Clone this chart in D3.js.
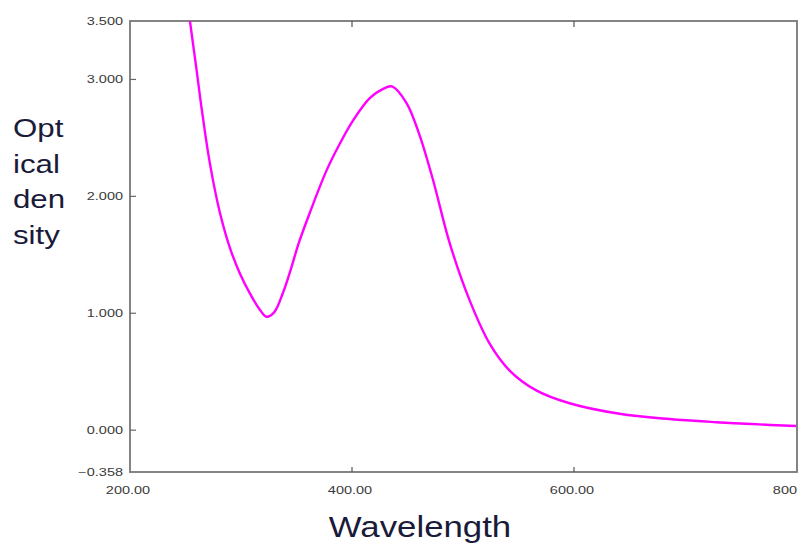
<!DOCTYPE html>
<html lang="en">
<head>
    <meta charset="UTF-8">
    <title>Optical density vs wavelength</title>
    <script src="https://d3js.org/d3.v7.min.js"></script>
    <style>
        body { margin: 0; background: #fff; }
        svg text { font-family: "Liberation Sans", Arial, sans-serif; }
        .tick-label { font-size: 10px; fill: #3a3a3a; }
        .title { fill: #1a1a3a; }
    </style>
</head>
<body>
    <svg id="chart"></svg>
    <script>
        const width = 798;
        const height = 545;

        // spectrum
        const wavelengths = [250, 254, 260, 265, 272, 281, 290, 299, 308, 317, 323, 330, 338, 345, 352, 362, 377, 389, 401, 416, 428, 436, 449, 461, 473, 488, 506, 524, 542, 566, 596, 641, 686, 728, 760, 800];
        const density = [3.8, 3.5, 3.08, 2.72, 2.28, 1.86, 1.56, 1.34, 1.17, 1.03, 0.97, 1.01, 1.18, 1.38, 1.6, 1.86, 2.22, 2.45, 2.65, 2.84, 2.92, 2.94, 2.8, 2.52, 2.14, 1.6, 1.11, 0.74, 0.51, 0.34, 0.23, 0.14, 0.095, 0.068, 0.052, 0.035];

        const xTicks = [200, 400, 600, 800];
        const xTickLabels = ['200.00', '400.00', '600.00', '800'];
        const yTicks = [-0.358, 0, 1, 2, 3, 3.5];
        const yLabelLines = ['Opt', 'ical', 'den', 'sity'];

        const plotLeft = 130, plotRight = 796, plotTop = 21, plotBottom = 472;

        const svg = d3.select('#chart')
            .attr('width', width)
            .attr('height', height);

        const x = d3.scaleLinear().domain([200, 800]).range([plotLeft, plotRight]);
        const y = d3.scaleLinear().domain([-0.358, 3.5]).range([plotBottom, plotTop]);

        // the original picture is stretched sideways, so texts get a horizontal scale
        function addText(px, py, str, cls, size, sx, anchor) {
            svg.append('g')
                .attr('transform', `translate(${px},${py}) scale(${sx},1)`)
                .append('text')
                .attr('class', cls)
                .attr('font-size', size)
                .attr('text-anchor', anchor)
                .text(str);
        }

        svg.append('clipPath').attr('id', 'plot-clip')
            .append('rect')
            .attr('x', plotLeft).attr('y', plotTop)
            .attr('width', plotRight - plotLeft + 2).attr('height', plotBottom - plotTop);

        // frame
        svg.append('rect')
            .attr('x', plotLeft).attr('y', plotTop)
            .attr('width', plotRight - plotLeft + 1).attr('height', plotBottom - plotTop)
            .attr('fill', 'none')
            .attr('stroke', '#777')
            .attr('stroke-width', 1.8);

        // x ticks (inside, bottom and top)
        xTicks.forEach((t, i) => {
            if (t !== 200 && t !== 800) {
                svg.append('line').attr('x1', x(t)).attr('x2', x(t))
                    .attr('y1', plotBottom).attr('y2', plotBottom - 5)
                    .attr('stroke', '#555').attr('stroke-width', 1.2);
                svg.append('line').attr('x1', x(t)).attr('x2', x(t))
                    .attr('y1', plotTop).attr('y2', plotTop + 6)
                    .attr('stroke', '#555').attr('stroke-width', 1.2);
            }
            const last = i === xTicks.length - 1;
            addText(last ? x(t) + 1 : x(t) - 2, plotBottom + 22, xTickLabels[i],
                'tick-label', 10, 1.45, last ? 'end' : 'middle');
        });

        // y ticks
        yTicks.forEach(t => {
            if (t !== 3.5 && t !== -0.358) {
                svg.append('line').attr('x1', plotLeft).attr('x2', plotLeft + 6)
                    .attr('y1', y(t)).attr('y2', y(t))
                    .attr('stroke', '#666').attr('stroke-width', 1.2);
            }
            addText(plotLeft - 7, y(t) + 4, d3.format('.3f')(t), 'tick-label', 10, 1.45, 'end');
        });

        const line = d3.line()
            .x((d, i) => x(wavelengths[i]))
            .y(d => y(d))
            .curve(d3.curveCatmullRom.alpha(0.5));

        svg.append('path')
            .datum(density)
            .attr('clip-path', 'url(#plot-clip)')
            .attr('d', line)
            .attr('fill', 'none')
            .attr('stroke', '#ff00ff')
            .attr('stroke-width', 2.4);

        addText(420, 537, 'Wavelength', 'title', 30, 1.16, 'middle');

        yLabelLines.forEach((s, i) => {
            addText(13, 137 + i * 35.5, s, 'title', 25, 1.25, 'start');
        });
    </script>
</body>
</html>
